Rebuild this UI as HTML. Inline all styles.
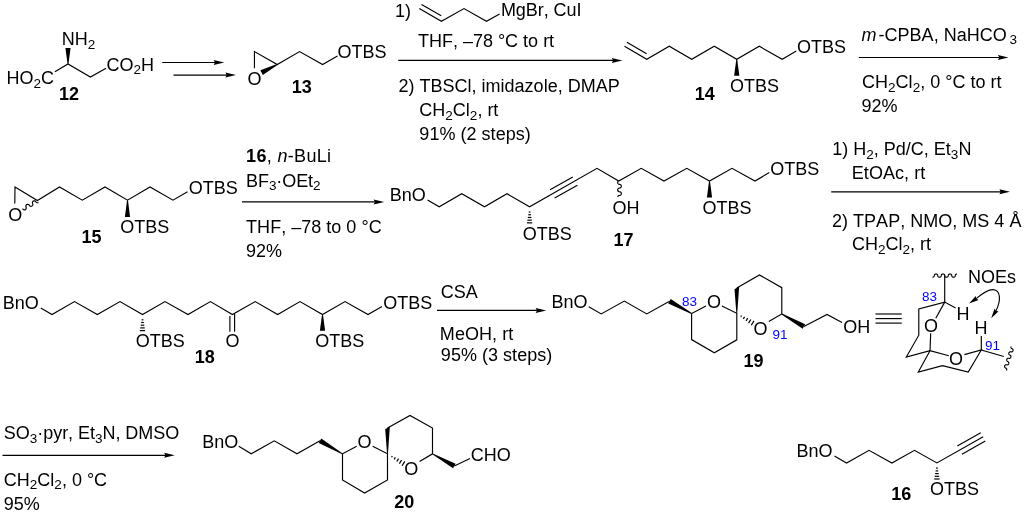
<!DOCTYPE html>
<html><head><meta charset="utf-8"><title>Scheme</title>
<style>
html,body{margin:0;padding:0;background:#fff;}
svg{display:block;will-change:transform;}
svg line,svg polyline,svg path{stroke:#000;fill:none;stroke-linecap:butt;}
svg .f{fill:#000;stroke:none;}
svg text{font-family:'Liberation Sans', sans-serif;font-size:18px;fill:#000;font-kerning:none;white-space:pre;}
svg .s{font-size:13.5px;}
svg .b{font-weight:bold;}
svg .i{font-style:italic;}
</style></head><body>
<svg width="1024" height="513" viewBox="0 0 1024 513">
<rect width="1024" height="513" fill="#fff"/>
<g>
<polyline points="54.9,71.75 68,63.9 90.4,77 106.1,68.2" stroke-width="1.15" stroke-linejoin="miter"/>
<polygon class="f" points="68.45,63.9 70.6,48 65.4,48 67.55,63.9"/>
<line x1="162.25" y1="62.5" x2="215.45" y2="62.5" stroke-width="1.15"/>
<polygon class="f" points="224.25,62.5 213.65,60 214.95,62.5 213.65,65"/>
<line x1="173.5" y1="75.1" x2="227.2" y2="75.1" stroke-width="1.15"/>
<polygon class="f" points="236,75.1 225.4,72.6 226.7,75.1 225.4,77.6"/>
<polyline points="254.45,68.2 254.45,51.6 277.25,64.5 299.6,51.6 322.6,64.5 337.5,55.9" stroke-width="1.15" stroke-linejoin="miter"/>
<polygon class="f" points="277.04,64.1 260.4,70.29 262.8,74.91 277.46,64.9"/>
<polyline points="419.3,8.6 441.4,21.3 464,8.6 486.5,21.3 499.6,14" stroke-width="1.15" stroke-linejoin="miter"/>
<line x1="421.5" y1="4.4" x2="441.25" y2="15.8" stroke-width="1.15"/>
<line x1="398.25" y1="60.4" x2="613.6" y2="60.4" stroke-width="1.15"/>
<polygon class="f" points="622.4,60.4 611.8,57.9 613.1,60.4 611.8,62.9"/>
<polyline points="624.5,46.25 646.75,59.25 669.25,46.25 691.75,59.25 714.25,46.25 736.75,59.25 759.25,46.25 782.2,59.25 796.3,51.1" stroke-width="1.15" stroke-linejoin="miter"/>
<line x1="626.87" y1="42.19" x2="646.62" y2="53.73" stroke-width="1.15"/>
<polygon class="f" points="736.3,59.25 734.15,75.85 739.35,75.85 737.2,59.25"/>
<line x1="858.9" y1="57.5" x2="999.7" y2="57.5" stroke-width="1.15"/>
<polygon class="f" points="1008.5,57.5 997.9,55 999.2,57.5 997.9,60"/>
<polyline points="14.8,203.4 15,187 37.4,200.6 59.5,187 82.3,200.2 105,187 127.5,200.2 150,187 173,200.2 187.5,191.8" stroke-width="1.15" stroke-linejoin="miter"/>
<path d="M38.49,202.55 L38.15,202.69 L37.79,202.77 L37.42,202.77 L37.06,202.7 L36.72,202.56 L36.41,202.35 L36.15,202.09 L35.95,201.79 L35.95,201.79 L35.74,201.48 L35.48,201.22 L35.18,201.02 L34.84,200.88 L34.48,200.81 L34.11,200.81 L33.75,200.88 L33.41,201.02 L33.1,201.23 L32.84,201.49 L32.64,201.79 L32.5,202.13 L32.43,202.49 L32.43,202.86 L32.5,203.22 L32.64,203.56 L32.64,203.56 L32.79,203.9 L32.86,204.26 L32.86,204.63 L32.79,204.99 L32.65,205.33 L32.44,205.63 L32.18,205.89 L31.88,206.1 L31.54,206.24 L31.18,206.31 L30.81,206.31 L30.45,206.24 L30.11,206.1 L29.81,205.9 L29.55,205.64 L29.34,205.33 L29.34,205.33 L29.14,205.03 L28.88,204.77 L28.57,204.57 L28.23,204.43 L27.87,204.36 L27.5,204.36 L27.14,204.43 L26.8,204.57 L26.5,204.77 L26.24,205.03 L26.03,205.34 L25.89,205.68 L25.82,206.04 L25.82,206.41 L25.9,206.77 L26.04,207.11 L26.04,207.11 L26.18,207.45 L26.25,207.81 L26.25,208.18 L26.18,208.54 L26.04,208.88 L25.84,209.18 L25.58,209.44 L25.27,209.65 L24.93,209.79 L24.57,209.86 L24.2,209.86 L23.84,209.79 L23.5,209.65 L23.2,209.45 L22.94,209.19 L22.73,208.88 L22.73,208.88 L22.53,208.58" fill="none" stroke-width="1.15" stroke-linejoin="round"/>
<polygon class="f" points="127.05,200.2 124.9,217.05 130.1,217.05 127.95,200.2"/>
<line x1="242" y1="201.9" x2="375.45" y2="201.9" stroke-width="1.15"/>
<polygon class="f" points="384.25,201.9 373.65,199.4 374.95,201.9 373.65,204.4"/>
<polyline points="427.5,200 439.25,206.75 461.75,193.75 484.5,206.75 507,193.75 529.6,206.75 597,168.3 618.75,181 641.25,168.3 664,181 686.8,168.3 709.5,181 732,168.3 755,181 769.3,172.6" stroke-width="1.15" stroke-linejoin="miter"/>
<line x1="554.65" y1="198.05" x2="577.4" y2="185.25" stroke-width="1.15"/>
<line x1="550.04" y1="189.85" x2="572.79" y2="177.05" stroke-width="1.15"/>
<line x1="528.73" y1="212.05" x2="530.47" y2="212.05" stroke-width="1.2"/>
<line x1="528.28" y1="214.75" x2="530.92" y2="214.75" stroke-width="1.2"/>
<line x1="527.84" y1="217.45" x2="531.36" y2="217.45" stroke-width="1.2"/>
<line x1="527.39" y1="220.15" x2="531.81" y2="220.15" stroke-width="1.2"/>
<line x1="526.95" y1="222.85" x2="532.25" y2="222.85" stroke-width="1.2"/>
<path d="M618.19,181.19 L617.96,181.47 L617.79,181.79 L617.69,182.14 L617.65,182.5 L617.69,182.86 L617.79,183.21 L617.96,183.53 L618.19,183.81 L618.47,184.04 L618.79,184.21 L619.14,184.31 L619.5,184.35 L619.5,184.35 L619.86,184.39 L620.21,184.49 L620.53,184.66 L620.81,184.89 L621.04,185.17 L621.21,185.49 L621.31,185.84 L621.35,186.2 L621.31,186.56 L621.21,186.91 L621.04,187.23 L620.81,187.51 L620.53,187.74 L620.21,187.91 L619.86,188.01 L619.5,188.05 L619.5,188.05 L619.14,188.09 L618.79,188.19 L618.47,188.36 L618.19,188.59 L617.96,188.87 L617.79,189.19 L617.69,189.54 L617.65,189.9 L617.69,190.26 L617.79,190.61 L617.96,190.93 L618.19,191.21 L618.47,191.44 L618.79,191.61 L619.14,191.71 L619.5,191.75 L619.5,191.75 L619.86,191.79 L620.21,191.89 L620.53,192.06 L620.81,192.29 L621.04,192.57 L621.21,192.89 L621.31,193.24 L621.35,193.6 L621.31,193.96 L621.21,194.31 L621.04,194.63 L620.81,194.91 L620.53,195.14 L620.21,195.31 L619.86,195.41 L619.5,195.45 L619.5,195.45 L619.14,195.49 L618.79,195.59 L618.47,195.76 L618.19,195.99 L617.96,196.27 L617.79,196.59 L617.69,196.94" fill="none" stroke-width="1.15" stroke-linejoin="round"/>
<polygon class="f" points="709.05,181 706.9,197.4 712.1,197.4 709.95,181"/>
<line x1="831.2" y1="191.8" x2="1001.2" y2="191.8" stroke-width="1.15"/>
<polygon class="f" points="1010,191.8 999.4,189.3 1000.7,191.8 999.4,194.3"/>
<polyline points="40.75,308 52,314.5 74.5,301.6 97.3,314.5 120,301.6 142.5,314.5 165,301.6 188,314.5 210.4,301.6 232.4,314.5 255.2,301.6 277.7,314.5 300,301.6 322.5,314.5 345,301.6 368,314.5 382,306.6" stroke-width="1.15" stroke-linejoin="miter"/>
<line x1="141.63" y1="319.8" x2="143.37" y2="319.8" stroke-width="1.2"/>
<line x1="141.18" y1="322.5" x2="143.82" y2="322.5" stroke-width="1.2"/>
<line x1="140.74" y1="325.2" x2="144.26" y2="325.2" stroke-width="1.2"/>
<line x1="140.29" y1="327.9" x2="144.71" y2="327.9" stroke-width="1.2"/>
<line x1="139.85" y1="330.6" x2="145.15" y2="330.6" stroke-width="1.2"/>
<line x1="229.9" y1="315.9" x2="229.9" y2="331.8" stroke-width="1.15"/>
<line x1="234.6" y1="313.2" x2="234.6" y2="331.8" stroke-width="1.15"/>
<polygon class="f" points="322.05,314.5 319.9,330.75 325.1,330.75 322.95,314.5"/>
<line x1="437" y1="310.4" x2="537.45" y2="310.4" stroke-width="1.15"/>
<polygon class="f" points="546.25,310.4 535.65,307.9 536.95,310.4 535.65,312.9"/>
<polyline points="588.75,306.75 601.25,313.9 624.25,301.1 646.75,313.9 669.5,301.3" stroke-width="1.15" stroke-linejoin="miter"/>
<polygon class="f" points="691.82,313.11 670.76,299.02 668.24,303.58 691.38,313.89"/>
<polyline points="706,306 691.6,313.5 691.6,339.6 714.3,352.8 736.8,339.8 736.8,313.3 721.9,305.9" stroke-width="1.15" stroke-linejoin="miter"/>
<polygon class="f" points="736.35,313.3 734.5,289.3 739.15,286.6 737.25,313.3"/>
<polyline points="736.8,288 759.4,274.9 781.8,287.7 781.8,314 768.8,321.6" stroke-width="1.15" stroke-linejoin="miter"/>
<line x1="740.76" y1="316.77" x2="741.52" y2="315.51" stroke-width="1.2"/>
<line x1="743.35" y1="318.87" x2="744.58" y2="316.82" stroke-width="1.2"/>
<line x1="746.01" y1="321.03" x2="747.74" y2="318.17" stroke-width="1.2"/>
<line x1="748.6" y1="323.12" x2="750.8" y2="319.48" stroke-width="1.2"/>
<line x1="751.27" y1="325.28" x2="753.96" y2="320.83" stroke-width="1.2"/>
<polygon class="f" points="781.58,314.39 802.63,328.67 805.17,324.13 782.02,313.61"/>
<polyline points="803.9,326.4 827,314.4 842,322.6" stroke-width="1.15" stroke-linejoin="miter"/>
<line x1="875.5" y1="314" x2="901.75" y2="314" stroke-width="1.15"/>
<line x1="875.5" y1="318.6" x2="901.75" y2="318.6" stroke-width="1.15"/>
<line x1="875.5" y1="323.1" x2="901.75" y2="323.1" stroke-width="1.15"/>
<path d="M932.5,277.2 L932.84,277.17 L933.17,277.08 L933.47,276.93 L933.74,276.73 L933.96,276.49 L934.12,276.21 L934.22,275.91 L934.25,275.6 L934.25,275.6 L934.28,275.29 L934.38,274.99 L934.54,274.71 L934.76,274.47 L935.03,274.27 L935.33,274.12 L935.66,274.03 L936,274 L936.34,274.03 L936.67,274.12 L936.97,274.27 L937.24,274.47 L937.46,274.71 L937.62,274.99 L937.72,275.29 L937.75,275.6 L937.75,275.6 L937.78,275.91 L937.88,276.21 L938.04,276.49 L938.26,276.73 L938.53,276.93 L938.83,277.08 L939.16,277.17 L939.5,277.2 L939.84,277.17 L940.17,277.08 L940.47,276.93 L940.74,276.73 L940.96,276.49 L941.12,276.21 L941.22,275.91 L941.25,275.6 L941.25,275.6 L941.28,275.29 L941.38,274.99 L941.54,274.71 L941.76,274.47 L942.03,274.27 L942.33,274.12 L942.66,274.03 L943,274 L943.34,274.03 L943.67,274.12 L943.97,274.27 L944.24,274.47 L944.46,274.71 L944.62,274.99 L944.72,275.29 L944.75,275.6 L944.75,275.6 L944.78,275.91 L944.88,276.21 L945.04,276.49 L945.26,276.73 L945.53,276.93 L945.83,277.08 L946.16,277.17 L946.5,277.2 L946.84,277.17 L947.17,277.08 L947.47,276.93 L947.74,276.73 L947.96,276.49 L948.12,276.21 L948.22,275.91 L948.25,275.6 L948.25,275.6 L948.28,275.29 L948.38,274.99 L948.54,274.71 L948.76,274.47 L949.03,274.27 L949.33,274.12 L949.66,274.03 L950,274 L950.34,274.03 L950.67,274.12 L950.97,274.27 L951.24,274.47 L951.46,274.71 L951.62,274.99 L951.72,275.29 L951.75,275.6 L951.75,275.6 L951.78,275.91 L951.88,276.21 L952.04,276.49 L952.26,276.73 L952.53,276.93 L952.83,277.08 L953.16,277.17 L953.5,277.2 L953.84,277.17 L954.17,277.08 L954.47,276.93 L954.74,276.73 L954.96,276.49 L955.12,276.21 L955.22,275.91 L955.25,275.6 L955.25,275.6 L955.28,275.29 L955.38,274.99 L955.54,274.71 L955.76,274.47 L956.03,274.27 L956.33,274.12 L956.66,274.03 L957,274" fill="none" stroke-width="1.15" stroke-linejoin="round"/>
<line x1="944.7" y1="275.6" x2="944.7" y2="302.1" stroke-width="1.15"/>
<polyline points="955.6,308 944.7,302.1 918.8,309 918.8,335.2 906.3,357 930,350.7 948.8,355.8" stroke-width="1.15" stroke-linejoin="miter"/>
<line x1="944.7" y1="302.1" x2="935.8" y2="318.2" stroke-width="1.15"/>
<line x1="930.7" y1="333.2" x2="930" y2="350.7" stroke-width="1.15"/>
<polyline points="930,350.7 918.3,372 942.5,365.7 968.2,372 981.3,350 964.4,354.6" stroke-width="1.15" stroke-linejoin="miter"/>
<line x1="981.3" y1="350" x2="981.3" y2="335.9" stroke-width="1.15"/>
<line x1="981.3" y1="350" x2="1003.8" y2="356.5" stroke-width="1.15"/>
<path d="M1010.98,346.5 L1010.91,346.83 L1010.89,347.16 L1010.94,347.49 L1011.05,347.79 L1011.22,348.07 L1011.43,348.3 L1011.69,348.49 L1011.97,348.62 L1011.97,348.62 L1012.26,348.74 L1012.51,348.93 L1012.73,349.16 L1012.89,349.44 L1013,349.75 L1013.05,350.07 L1013.04,350.4 L1012.97,350.73 L1012.84,351.03 L1012.65,351.31 L1012.42,351.54 L1012.15,351.73 L1011.85,351.85 L1011.54,351.92 L1011.23,351.91 L1010.92,351.85 L1010.92,351.85 L1010.61,351.78 L1010.3,351.78 L1009.98,351.85 L1009.69,351.97 L1009.42,352.15 L1009.19,352.39 L1009,352.66 L1008.87,352.97 L1008.8,353.29 L1008.78,353.63 L1008.83,353.95 L1008.94,354.26 L1009.11,354.53 L1009.32,354.77 L1009.58,354.95 L1009.86,355.08 L1009.86,355.08 L1010.15,355.21 L1010.41,355.39 L1010.62,355.63 L1010.79,355.91 L1010.9,356.21 L1010.94,356.54 L1010.93,356.87 L1010.86,357.19 L1010.73,357.5 L1010.54,357.77 L1010.31,358.01 L1010.04,358.19 L1009.74,358.32 L1009.43,358.38 L1009.12,358.38 L1008.81,358.31 L1008.81,358.31 L1008.5,358.25 L1008.19,358.25 L1007.88,358.31 L1007.58,358.44 L1007.31,358.62 L1007.08,358.85 L1006.89,359.13 L1006.76,359.43 L1006.69,359.76 L1006.68,360.09 L1006.73,360.42 L1006.84,360.72 L1007,361 L1007.21,361.23 L1007.47,361.42 L1007.76,361.55 L1007.76,361.55 L1008.04,361.67 L1008.3,361.86 L1008.51,362.09 L1008.68,362.37 L1008.79,362.68 L1008.84,363 L1008.82,363.33 L1008.75,363.66 L1008.62,363.96 L1008.43,364.24 L1008.2,364.47 L1007.93,364.66 L1007.64,364.78 L1007.32,364.85 L1007.01,364.84 L1006.7,364.78 L1006.7,364.78 L1006.4,364.71 L1006.08,364.71 L1005.77,364.78 L1005.47,364.9 L1005.2,365.08 L1004.97,365.32 L1004.79,365.59 L1004.65,365.9 L1004.58,366.22 L1004.57,366.56 L1004.62,366.88 L1004.73,367.19 L1004.89,367.46 L1005.11,367.7 L1005.36,367.88 L1005.65,368.01 L1005.65,368.01 L1005.94,368.14 L1006.19,368.32 L1006.4,368.56 L1006.57,368.84 L1006.68,369.14 L1006.73,369.47 L1006.72,369.8 L1006.64,370.12 L1006.51,370.43" fill="none" stroke-width="1.15" stroke-linejoin="round"/>
<path d="M976.1,298.6 C981,294.5 988.5,289.2 993.3,289.6 C1000.8,290.3 1001.2,300.5 995.9,311" fill="none" stroke-width="1.15"/>
<polygon class="f" points="969,303.6 975.8,295.9 976.1,298.6 978.6,299.9"/>
<polygon class="f" points="991.2,318.3 994.6,308.6 995.9,311 998.6,311.2"/>
<line x1="2.5" y1="455.3" x2="165.95" y2="455.3" stroke-width="1.15"/>
<polygon class="f" points="174.75,455.3 164.15,452.8 165.45,455.3 164.15,457.8"/>
<polyline points="238.75,446.3 251.25,453.8 274.25,440.8 297,453.8 320,440.8" stroke-width="1.15" stroke-linejoin="miter"/>
<polygon class="f" points="342.73,453.41 321.3,438.55 318.7,443.05 342.27,454.19"/>
<polyline points="356.7,446.2 342.5,453.8 342.5,480 364.6,493 387.5,480 387.5,453.8 372.7,446.2" stroke-width="1.15" stroke-linejoin="miter"/>
<polygon class="f" points="387.05,453.8 385.2,429.3 389.85,426.6 387.95,453.8"/>
<polyline points="387.5,428 410,415.4 432.5,428 432.5,453.8 419.6,461.5" stroke-width="1.15" stroke-linejoin="miter"/>
<line x1="391.56" y1="457.27" x2="392.32" y2="456.01" stroke-width="1.2"/>
<line x1="394.15" y1="459.37" x2="395.38" y2="457.32" stroke-width="1.2"/>
<line x1="396.81" y1="461.53" x2="398.54" y2="458.67" stroke-width="1.2"/>
<line x1="399.4" y1="463.62" x2="401.6" y2="459.98" stroke-width="1.2"/>
<line x1="402.07" y1="465.78" x2="404.76" y2="461.33" stroke-width="1.2"/>
<polygon class="f" points="432.28,454.19 453.04,468.17 455.56,463.63 432.72,453.41"/>
<line x1="454.3" y1="465.9" x2="470" y2="458.5" stroke-width="1.15"/>
<polyline points="834.45,456.1 846.55,463 869.05,450.3 891.9,463 914.5,450.3 936.9,462.9 983.2,436.7" stroke-width="1.15" stroke-linejoin="miter"/>
<line x1="961.93" y1="454.14" x2="985.34" y2="440.89" stroke-width="1.15"/>
<line x1="957.3" y1="445.96" x2="980.71" y2="432.71" stroke-width="1.15"/>
<line x1="936.03" y1="468.2" x2="937.77" y2="468.2" stroke-width="1.2"/>
<line x1="935.58" y1="470.9" x2="938.22" y2="470.9" stroke-width="1.2"/>
<line x1="935.14" y1="473.6" x2="938.66" y2="473.6" stroke-width="1.2"/>
<line x1="934.69" y1="476.3" x2="939.11" y2="476.3" stroke-width="1.2"/>
<line x1="934.25" y1="479" x2="939.55" y2="479" stroke-width="1.2"/>
</g>
<g>
<text x="61.8" y="44.95">NH<tspan class="s" dy="3.6">2</tspan></text>
<text x="6.5" y="84.25">HO<tspan class="s" dy="3.6">2</tspan><tspan dy="-3.6">C</tspan></text>
<text x="106.5" y="70.75">CO<tspan class="s" dy="3.6">2</tspan><tspan dy="-3.6">H</tspan></text>
<text x="59.1" y="100.25"><tspan class="b">12</tspan></text>
<text x="247.6" y="84.55">O</text>
<text x="337.6" y="58.25">OTBS</text>
<text x="291.65" y="93.25"><tspan class="b">13</tspan></text>
<text x="395" y="17.35">1)</text>
<text x="500.9" y="15.95" style="letter-spacing:-0.06px;">MgBr, CuI</text>
<text x="417.9" y="47.35">THF, –78 °C to rt</text>
<text x="398.6" y="92.35">2) TBSCl, imidazole, DMAP</text>
<text x="419.35" y="116.35">CH<tspan class="s" dy="3.6">2</tspan><tspan dy="-3.6">Cl</tspan><tspan class="s" dy="3.6">2</tspan><tspan dy="-3.6">, rt</tspan></text>
<text x="419.35" y="140.25" style="letter-spacing:0.03px;">91% (2 steps)</text>
<text x="730.1" y="91.7">OTBS</text>
<text x="797.1" y="53.25">OTBS</text>
<text x="694.85" y="100.45"><tspan class="b">14</tspan></text>
<text x="861.5" y="40.65"><tspan class="i">m</tspan></text>
<text x="878.5" y="40.65" style="letter-spacing:0.03px;">-CPBA, NaHCO</text>
<text x="1009.4" y="44.35" style="font-size:13.5px;">3</text>
<text x="862" y="88.15" style="letter-spacing:0.02px;">CH<tspan class="s" dy="3.6">2</tspan><tspan dy="-3.6">Cl</tspan><tspan class="s" dy="3.6">2</tspan><tspan dy="-3.6">, 0 °C to rt</tspan></text>
<text x="861.5" y="111.75">92%</text>
<text x="8.2" y="220.55">O</text>
<text x="120.35" y="233.25">OTBS</text>
<text x="188.85" y="194">OTBS</text>
<text x="81.5" y="243.1"><tspan class="b">15</tspan></text>
<text x="246.1" y="162.15" style="letter-spacing:0.32px;"><tspan class="b">16</tspan>, <tspan class="i">n</tspan>-BuLi</text>
<text x="246.1" y="186.5" style="letter-spacing:-0.09px;">BF<tspan class="s" dy="3.6">3</tspan><tspan dy="-3.6">·OEt</tspan><tspan class="s" dy="3.6">2</tspan></text>
<text x="246.1" y="233.45" style="letter-spacing:0.02px;">THF, –78 to 0 °C</text>
<text x="246" y="256.8">92%</text>
<text x="389.85" y="201.35">BnO</text>
<text x="522.85" y="239.5">OTBS</text>
<text x="612.6" y="213.6">OH</text>
<text x="613.45" y="246.05"><tspan class="b">17</tspan></text>
<text x="702.6" y="214">OTBS</text>
<text x="770.35" y="174.5">OTBS</text>
<text x="832.3" y="155.05">1) H<tspan class="s" dy="3.6">2</tspan><tspan dy="-3.6">, Pd/C, Et</tspan><tspan class="s" dy="3.6">3</tspan><tspan dy="-3.6">N</tspan></text>
<text x="851.8" y="178.85" style="letter-spacing:0.05px;">EtOAc, rt</text>
<text x="832" y="226.75" style="letter-spacing:0.02px;">2) TPAP, NMO, MS 4 Å</text>
<text x="852" y="249.95">CH<tspan class="s" dy="3.6">2</tspan><tspan dy="-3.6">Cl</tspan><tspan class="s" dy="3.6">2</tspan><tspan dy="-3.6">, rt</tspan></text>
<text x="2.85" y="309">BnO</text>
<text x="135.85" y="346.5">OTBS</text>
<text x="225.55" y="347.3">O</text>
<text x="194.85" y="363.05"><tspan class="b">18</tspan></text>
<text x="315.35" y="347">OTBS</text>
<text x="383.35" y="308.75">OTBS</text>
<text x="440.85" y="298.25">CSA</text>
<text x="439.85" y="340" style="letter-spacing:0.06px;">MeOH, rt</text>
<text x="440.85" y="360.75" style="letter-spacing:0.03px;">95% (3 steps)</text>
<text x="551.6" y="308.25">BnO</text>
<text x="707" y="308.35">O</text>
<text x="753.5" y="335.35">O</text>
<text x="843.35" y="333.25">OH</text>
<text x="682.1" y="305.95" style="font-size:13.5px;fill:#0000ff;">83</text>
<text x="772.6" y="338.95" style="font-size:13.5px;fill:#0000ff;">91</text>
<text x="743.6" y="367"><tspan class="b">19</tspan></text>
<text x="922" y="301.15" style="font-size:13.5px;fill:#0000ff;">83</text>
<text x="984.9" y="349.95" style="font-size:13.5px;fill:#0000ff;">91</text>
<text x="956.4" y="319.95">H</text>
<text x="974.5" y="334">H</text>
<text x="924.1" y="331.5">O</text>
<text x="949.1" y="364.75">O</text>
<text x="968.1" y="283.35">NOEs</text>
<text x="3.85" y="439" style="letter-spacing:-0.04px;">SO<tspan class="s" dy="3.6">3</tspan><tspan dy="-3.6">·pyr, Et</tspan><tspan class="s" dy="3.6">3</tspan><tspan dy="-3.6">N, DMSO</tspan></text>
<text x="3.85" y="485.75">CH<tspan class="s" dy="3.6">2</tspan><tspan dy="-3.6">Cl</tspan><tspan class="s" dy="3.6">2</tspan><tspan dy="-3.6">, 0 °C</tspan></text>
<text x="3.85" y="509.5">95%</text>
<text x="202.35" y="448.25">BnO</text>
<text x="357.6" y="448.25">O</text>
<text x="404.35" y="475">O</text>
<text x="470.85" y="461.25">CHO</text>
<text x="394.2" y="507.85"><tspan class="b">20</tspan></text>
<text x="796.6" y="457">BnO</text>
<text x="930.1" y="495.45">OTBS</text>
<text x="891.25" y="499.85"><tspan class="b">16</tspan></text>
</g>
</svg>
</body></html>
